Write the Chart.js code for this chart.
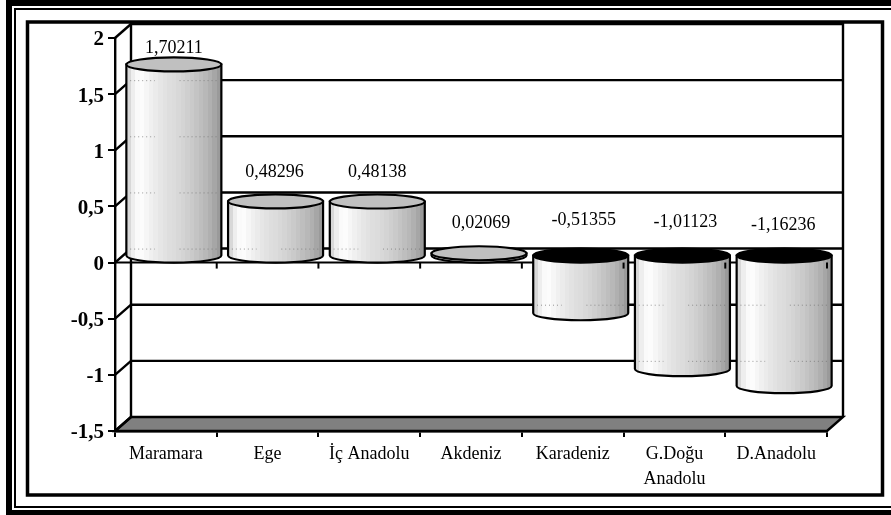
<!DOCTYPE html>
<html>
<head>
<meta charset="utf-8">
<style>
  html, body { margin: 0; padding: 0; background: #fff; }
  canvas { display: block; }
</style>
<script src="https://cdn.jsdelivr.net/npm/chart.js@4/dist/chart.umd.js"></script>
</head>
<body>
<canvas id="chart" width="891" height="515"></canvas>
<script>
const categories = ["Maramara", "Ege", "İç Anadolu", "Akdeniz", "Karadeniz", ["G.Doğu", "Anadolu"], "D.Anadolu"];
const values = [1.70211, 0.48296, 0.48138, 0.02069, -0.51355, -1.01123, -1.16236];
const valueLabels = ["1,70211", "0,48296", "0,48138", "0,02069", "-0,51355", "-1,01123", "-1,16236"];
const yTicks = [-1.5, -1, -0.5, 0, 0.5, 1, 1.5, 2];

// 3D look: the back wall sits this far behind the front plane
const depthX = 16;
const depthY = 14;
const serif = "'Liberation Serif', 'Times New Roman', serif";

// the labels were placed by hand in the original, so they don't follow the bars
const labelYs = [48, 172, 172, 223, 220, 222, 225];
const labelShift = [0, -1, 0, 2, 3, 3, -1];

// banded like the original's stepped fill
const sideBands = ["#d8d8d8", "#eeeeee", "#fafafa", "#fcfcfc", "#f6f6f6", "#f0f0f0", "#ebebeb", "#e6e6e6", "#e2e2e2",
  "#dedede", "#dcdcdc", "#d8d8d8", "#d4d4d4", "#cfcfcf", "#cacaca", "#c4c4c4", "#bebebe", "#b8b8b8", "#b0b0b0", "#a6a6a6", "#9a9a9a"];

function sideFill(ctx, left, right) {
  const g = ctx.createLinearGradient(left, 0, right, 0);
  sideBands.forEach((c, i) => {
    g.addColorStop(i / sideBands.length, c);
    g.addColorStop((i + 1) / sideBands.length, c);
  });
  return g;
}

function drawFrame(ctx) {
  ctx.fillStyle = "#000";
  ctx.fillRect(6, 0, 885, 6);
  ctx.fillRect(6, 0, 6, 515);
  ctx.fillRect(6, 510, 885, 5);
  ctx.fillRect(14, 8, 877, 2);
  ctx.fillRect(14, 8, 2, 500);
  ctx.fillRect(14, 506, 877, 2);
  ctx.lineWidth = 3.5;
  ctx.strokeStyle = "#000";
  ctx.strokeRect(27.5, 22, 855, 473);
}

function drawWalls(chart) {
  const ctx = chart.ctx;
  const x = chart.scales.x;
  const y = chart.scales.y;
  const l = x.left, r = x.right, t = y.top, b = y.bottom;

  ctx.save();
  ctx.strokeStyle = "#000";
  ctx.lineWidth = 2.4;

  // floor
  ctx.fillStyle = "#808080";
  ctx.beginPath();
  ctx.moveTo(l, b);
  ctx.lineTo(r, b);
  ctx.lineTo(r + depthX, b - depthY);
  ctx.lineTo(l + depthX, b - depthY);
  ctx.closePath();
  ctx.fill();
  ctx.stroke();

  // back wall and the side wall diagonals
  ctx.beginPath();
  ctx.moveTo(l + depthX, b - depthY);
  ctx.lineTo(l + depthX, t - depthY);
  ctx.lineTo(r + depthX, t - depthY);
  ctx.lineTo(r + depthX, b - depthY);
  ctx.stroke();

  yTicks.forEach(v => {
    const py = y.getPixelForValue(v);
    ctx.beginPath();
    ctx.moveTo(l, py);
    ctx.lineTo(l + depthX, py - depthY);
    if (v > -1.5 && v < 2) ctx.lineTo(r + depthX, py - depthY);
    ctx.stroke();
  });
  ctx.restore();
}

function drawCylinder(ctx, cx, top, bottom, halfW, ry, negative) {
  const left = cx - halfW;
  const right = cx + halfW;
  ctx.save();
  ctx.lineWidth = 2.2;
  ctx.strokeStyle = "#000";

  ctx.beginPath();
  ctx.moveTo(left, top);
  ctx.lineTo(left, bottom);
  ctx.ellipse(cx, bottom, halfW, ry, 0, Math.PI, 0, true);
  ctx.lineTo(right, top);
  ctx.closePath();
  ctx.fillStyle = sideFill(ctx, left, right);
  ctx.fill();
  ctx.stroke();

  ctx.beginPath();
  ctx.ellipse(cx, top, halfW, ry, 0, 0, Math.PI * 2);
  ctx.fillStyle = negative ? "#000" : "#c0c0c0";
  ctx.fill();
  ctx.stroke();
  ctx.restore();
}

// faint dotted traces where the gridlines show through the cylinders
function drawShowThrough(ctx, chart, cx, top, bottom, halfW) {
  const y = chart.scales.y;
  ctx.save();
  ctx.strokeStyle = "rgba(110,110,110,0.7)";
  ctx.lineWidth = 1;
  ctx.setLineDash([1, 3]);
  yTicks.forEach(v => {
    const py = y.getPixelForValue(v) - depthY;
    if (py <= Math.min(top, bottom) + 8 || py >= Math.max(top, bottom)) return;
    [[0.04, 0.3], [0.56, 0.98]].forEach(seg => {
      ctx.beginPath();
      ctx.moveTo(cx - halfW + seg[0] * 2 * halfW, py + 0.5);
      ctx.lineTo(cx - halfW + seg[1] * 2 * halfW, py + 0.5);
      ctx.stroke();
    });
  });
  ctx.restore();
}

const cylinders = {
  id: "cylinders",
  beforeDraw(chart) {
    const ctx = chart.ctx;
    ctx.save();
    ctx.fillStyle = "#fff";
    ctx.fillRect(0, 0, chart.width, chart.height);
    drawFrame(ctx);
    ctx.restore();
    drawWalls(chart);
  },
  afterDatasetsDraw(chart) {
    const ctx = chart.ctx;
    const x = chart.scales.x;
    const y = chart.scales.y;
    const zero = y.getPixelForValue(0);

    // front edge of the zero plane, with its ticks
    ctx.save();
    ctx.strokeStyle = "#000";
    ctx.lineWidth = 2;
    ctx.beginPath();
    ctx.moveTo(x.left, zero);
    ctx.lineTo(x.right, zero);
    ctx.stroke();
    ctx.restore();

    chart.getDatasetMeta(0).data.forEach((bar, i) => {
      const cx = bar.x + depthX / 2;
      const halfW = bar.width / 2;
      const shift = depthY / 2;
      const neg = values[i] < 0;
      const top = neg ? zero - shift : bar.y - shift;
      const bottom = neg ? bar.y - shift : zero - shift;
      drawCylinder(ctx, cx, top, bottom, halfW, depthY / 2, neg);
      drawShowThrough(ctx, chart, cx, top, bottom, halfW);
    });

    ctx.save();
    ctx.strokeStyle = "#000";
    ctx.lineWidth = 2;
    for (let i = 0; i <= categories.length; i++) {
      const px = x.left + (x.right - x.left) * i / categories.length;
      ctx.beginPath();
      ctx.moveTo(px, zero);
      ctx.lineTo(px, zero + 6);
      ctx.stroke();
    }

    ctx.fillStyle = "#000";
    ctx.font = "18px " + serif;
    ctx.textAlign = "center";
    ctx.textBaseline = "middle";
    chart.getDatasetMeta(0).data.forEach((bar, i) => {
      ctx.fillText(valueLabels[i], bar.x + depthX / 2 + labelShift[i], labelYs[i]);
    });
    ctx.restore();
  }
};

new Chart(document.getElementById("chart"), {
  type: "bar",
  data: {
    labels: categories,
    datasets: [{
      data: values,
      backgroundColor: "transparent",
      borderWidth: 0,
      barPercentage: 1,
      categoryPercentage: 0.934
    }]
  },
  options: {
    responsive: false,
    animation: false,
    devicePixelRatio: 1,
    layout: { padding: { left: 0, right: 64, top: 38, bottom: 0 } },
    plugins: { legend: { display: false }, tooltip: { enabled: false } },
    scales: {
      x: {
        afterFit: s => { s.height = 84; },
        grid: { drawOnChartArea: false, color: "#000", lineWidth: 2, tickLength: 6, offset: true },
        border: { color: "#000", width: 2.4 },
        ticks: {
          color: "#000",
          font: { family: serif, size: 18, lineHeight: 1.38 },
          padding: 5,
          maxRotation: 0,
          autoSkip: false
        }
      },
      y: {
        min: -1.5,
        max: 2,
        afterFit: s => { s.width = 115; },
        afterBuildTicks: s => { s.ticks = yTicks.map(v => ({ value: v })); },
        grid: { drawOnChartArea: false, color: "#000", lineWidth: 2, tickLength: 7 },
        border: { color: "#000", width: 2.4 },
        ticks: {
          color: "#000",
          // blank first line nudges the text down to where the original has it
          font: { family: serif, size: 21, weight: "bold", lineHeight: "4px" },
          padding: 4,
          callback: v => ["", String(v).replace(".", ",")]
        }
      }
    }
  },
  plugins: [cylinders]
});
</script>
</body>
</html>
